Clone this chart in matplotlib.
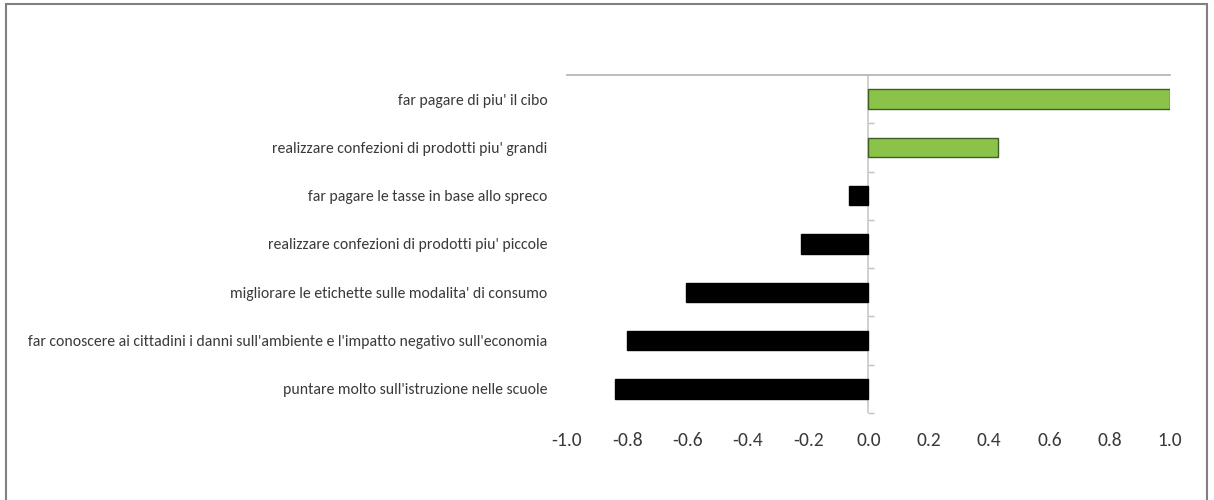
import matplotlib.pyplot as plt
from matplotlib.patches import Rectangle
from matplotlib import font_manager

labels = [
    "far pagare di piu' il cibo",
    "realizzare confezioni di prodotti piu' grandi",
    "far pagare le tasse in base allo spreco",
    "realizzare confezioni di prodotti piu' piccole",
    "migliorare le etichette sulle modalita' di consumo",
    "far conoscere ai cittadini i danni sull'ambiente e l'impatto negativo sull'economia",
    "puntare molto sull'istruzione nelle scuole",
]
values = [1.0, 0.43, -0.065, -0.225, -0.605, -0.80, -0.84]
xticks = [-1.0, -0.8, -0.6, -0.4, -0.2, 0.0, 0.2, 0.4, 0.6, 0.8, 1.0]

names = {f.name for f in font_manager.fontManager.ttflist}
wanted = ['Carlito', 'Fira Sans Condensed', 'PT Sans Narrow', 'Archivo Narrow',
          'Asap Condensed', 'Encode Sans Condensed', 'IBM Plex Sans Condensed',
          'Roboto Condensed', 'Liberation Sans Narrow', 'Lato']
choice = [n for n in wanted if n in names]
plt.rcParams['font.family'] = choice[:1] + ['DejaVu Sans']

text_col = '#3a3a3a'
fig = plt.figure(figsize=(12.14, 5.0), dpi=100)
ax = fig.add_axes([0.467, 0.174, 0.4968, 0.676])

pos = list(range(len(labels)))
colors = ['#8bc34a' if v > 0 else '#000000' for v in values]
edges = ['#3d5e24' if v > 0 else '#000000' for v in values]
ax.barh(pos, values, height=0.4, color=colors, edgecolor=edges, linewidth=1.0, zorder=3)

ax.set_xlim(-1.0, 1.0)
ax.set_ylim(len(labels) - 0.5, -0.5)
ax.set_xticks(xticks)
ax.set_xticklabels([f"{t:.1f}" for t in xticks], color=text_col)
ax.tick_params(axis='x', length=0, pad=14)
ax.set_yticks(pos)
ax.set_yticklabels(labels, color=text_col)
ax.tick_params(axis='y', length=0, pad=14)

# size the labels so the longest one spans about 520 px
renderer = fig.canvas.get_renderer()
ylabs = ax.get_yticklabels()
for t in ylabs:
    t.set_fontsize(10)
w = max(t.get_window_extent(renderer).width for t in ylabs)
for t in ylabs:
    t.set_fontsize(10 * 520 / w)
xlabs = ax.get_xticklabels()
for t in xlabs:
    t.set_fontsize(10)
w = xlabs[0].get_window_extent(renderer).width
for t in xlabs:
    t.set_fontsize(10 * 31 / w)

for s in ['left', 'right', 'bottom']:
    ax.spines[s].set_visible(False)
ax.spines['top'].set_color('#b0b0b0')
ax.spines['top'].set_linewidth(1.2)

# zero line with category separator ticks
ax.axvline(0, color='#c8c8c8', linewidth=1.2, zorder=2)
zero = ax.secondary_yaxis(0.5)
zero.set_yticks([p + 0.5 for p in pos])
zero.set_yticklabels([])
zero.tick_params(length=4, width=1, color='#c0c0c0', direction='out')
for s in zero.spines.values():
    s.set_visible(False)

# outer frame, open at the bottom
fig.patches.append(Rectangle((6 / 1214, -0.1), 1201 / 1214, 1.1 - 4 / 500,
                             transform=fig.transFigure, fill=False,
                             edgecolor='#808080', linewidth=1.5))

fig.savefig('out.png', dpi=100)
